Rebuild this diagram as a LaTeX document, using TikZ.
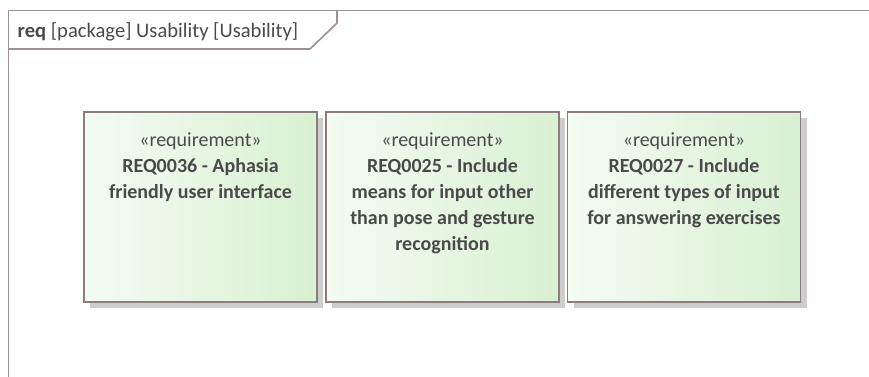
\documentclass[tikz,border=0pt]{standalone}
\usepackage{fontspec}
\setmainfont{Carlito}
\usetikzlibrary{shadows}
\definecolor{framecol}{HTML}{A08F8F}
\definecolor{boxedge}{HTML}{8E7B7B}
\definecolor{shadowcol}{HTML}{CDCDCD}
\definecolor{fillleft}{HTML}{F4FBF2}
\definecolor{fillright}{HTML}{D9F0D3}
\definecolor{txt}{HTML}{4A4A4A}
\tikzset{
  x=1pt, y=-1pt,
  frameline/.style={draw=framecol, line width=1.6pt},
  reqbox/.style={rectangle, draw=boxedge, line width=1.3pt,
    left color=fillleft, right color=fillright, shading angle=90,
    minimum width=233pt, minimum height=190pt, inner sep=0pt,
    drop shadow={shadow xshift=6pt, shadow yshift=-6pt, fill=shadowcol, opacity=1}},
  reqtext/.style={anchor=north, align=center, inner sep=0pt, text=txt,
    font=\fontsize{20}{26}\selectfont},
}
% first line of a requirement label, with a fixed height of 15pt
\newcommand{\stereoline}{\rule{0pt}{15pt}«requirement»}
\begin{document}
\begin{tikzpicture}
  \useasboundingbox (0,0) rectangle (869,376);
  % diagram frame with its name tab
  \draw[frameline] (8.5,380) -- (8.5,10.5) -- (872,10.5);
  \draw[frameline] (8.5,49) -- (310,49) -- (337,23) -- (337,10.5);
  \node[anchor=base west, inner sep=0pt, text=txt, font=\fontsize{20.6}{24}\selectfont]
    (title) at (17.5,37) {\textbf{req} [package] Usability [Usability]};
  % requirement elements
  \node[reqbox] (r36) at (200.5,207) {};
  \node[reqbox] (r25) at (442.5,207) {};
  \node[reqbox] (r27) at (684,207) {};
  \node[reqtext] (t36) at ([yshift=-20pt]r36.north)
    {\stereoline\\ \textbf{REQ0036 - Aphasia}\\ \textbf{friendly user interface}};
  \node[reqtext] (t25) at ([yshift=-20pt]r25.north)
    {\stereoline\\ \textbf{REQ0025 - Include}\\ \textbf{means for input other}\\ \textbf{than pose and gesture}\\ \textbf{recognition}};
  \node[reqtext] (t27) at ([yshift=-20pt]r27.north)
    {\stereoline\\ \textbf{REQ0027 - Include}\\ \textbf{different types of input}\\ \textbf{for answering exercises}};
\end{tikzpicture}
\end{document}
